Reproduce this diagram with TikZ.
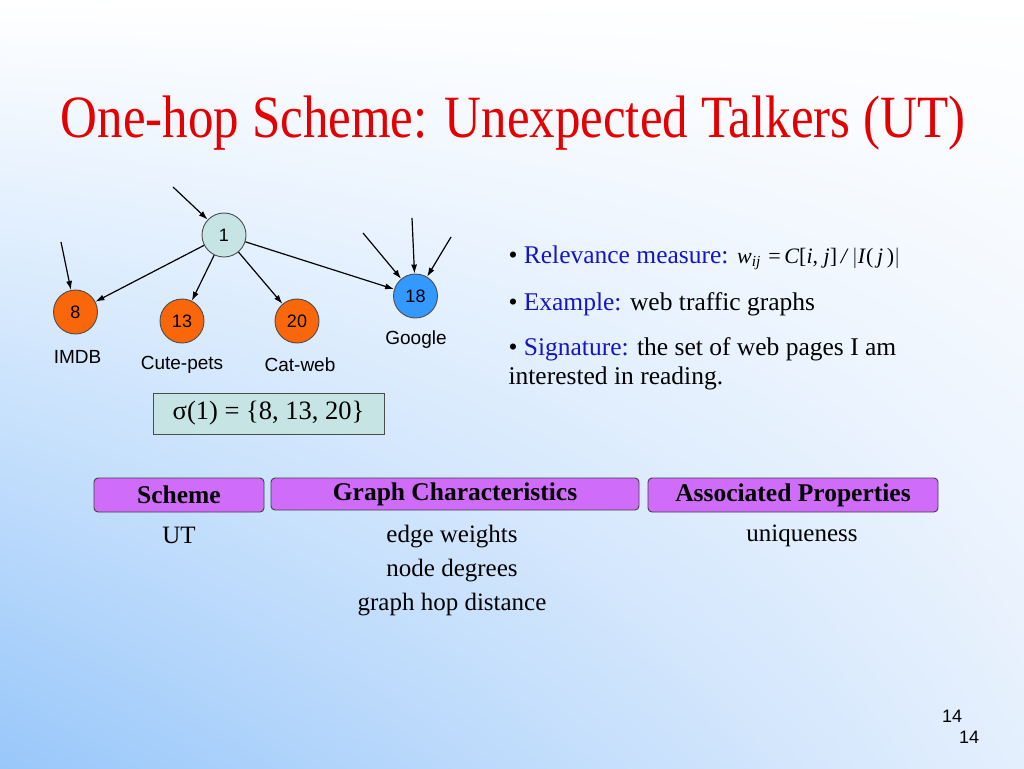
\documentclass[tikz,border=0pt]{standalone}
\usepackage{fontspec}
\setmainfont{Liberation Serif}
\setsansfont{Liberation Sans}
\usetikzlibrary{arrows.meta, shadings}
\definecolor{bgblue}{RGB}{152,199,250}
\definecolor{bgpale}{RGB}{228,239,253}
\definecolor{titlered}{RGB}{228,0,0}
\definecolor{termblue}{RGB}{20,20,200}
\definecolor{pageteal}{RGB}{198,228,228}
\definecolor{hitorange}{RGB}{250,102,10}
\definecolor{hubblue}{RGB}{51,153,255}
\definecolor{headpurple}{RGB}{208,108,250}
\begin{document}
\begin{tikzpicture}[x=1pt, y=-1pt,
					site/.style = {circle, draw=black!70, line width=0.9pt, minimum size=44pt, inner sep=0pt, font=\sffamily\fontsize{18}{18}\selectfont},
					sitename/.style = {font=\sffamily\fontsize{19}{19}\selectfont},
					link/.style = {-{Latex[length=9pt,width=6pt]}, line width=1.2pt},
					header/.style = {draw=black!75, fill=headpurple, rounded corners=4pt, line width=0.9pt, font=\bfseries\fontsize{25.5}{25.5}\selectfont},
					body/.style = {anchor=base, font=\fontsize{25}{25}\selectfont},
					point/.style = {anchor=base west, align=left, font=\fontsize{25.5}{28.5}\selectfont}
				]
				\shade[lower left=bgblue, upper left=white, upper right=white, lower right=bgpale] (0,0) rectangle (1024,768);
				\node[anchor=base, text=titlered, font=\fontsize{60}{60}\selectfont] (title) at (513,137) {\scalebox{0.85}[1]{One-hop Scheme: Unexpected Talkers (UT)}};
				\node[site, fill=pageteal] (n1) at (224,235) {1};
				\node[site, fill=hitorange] (n8) at (75.5,312) {8};
				\node[site, fill=hitorange] (n13) at (182,321) {13};
				\node[site, fill=hitorange] (n20) at (297,321) {20};
				\node[site, fill=hubblue] (n18) at (415.5,296) {18};
				\node[sitename] (imdb) at (77.5,357) {IMDB};
				\node[sitename] (pets) at (182,365) {Cute-pets};
				\node[sitename] (catweb) at (300,365) {Cat-web};
				\node[sitename] (google) at (416,340) {Google};
				\coordinate (in1) at (173,187);
				\coordinate (in8) at (61,242);
				\coordinate (in18a) at (363,233);
				\coordinate (in18b) at (412,218);
				\coordinate (in18c) at (451,237);
				\draw[link] (in1) -- (n1);
				\draw[link] (in8) -- (n8);
				\foreach \src in {in18a, in18b, in18c}
					\draw[link] (\src) -- (n18);
				\foreach \dst in {n8, n13, n20, n18}
					\draw[link] (n1) -- (\dst);
				\node[draw=black!70, fill=pageteal, line width=0.9pt, minimum width=231pt, minimum height=41pt, font=\fontsize{26.5}{26.5}\selectfont] (sigma) at (268.5,413.5) {σ(1) = \{8, 13, 20\}};
				\node[point] (relevance) at (505,263) {\textbullet\ \textcolor{termblue}{Relevance measure:}};
				\node[anchor=base west, inner sep=0pt, font=\fontsize{22}{22}\selectfont] (weight) at (737,263) {\textit{w}\textsubscript{\textit{ij}}\,\,=\,\textit{C}[\textit{i}, \textit{j}]\,\textit{/}\,$\bigl|$\textit{I}(\,\textit{j}\,)$\bigr|$};
				\node[point] (example) at (505,310) {\textbullet\ \textcolor{termblue}{Example:} web traffic graphs};
				\node[point] (signature) at (505,384) {\textbullet\ \textcolor{termblue}{Signature:} the set of web pages I am\\interested in reading.};
				\node[header, minimum width=170pt, minimum height=34pt] (scheme) at (179,495) {Scheme};
				\node[header, minimum width=368pt, minimum height=32pt] (graphchar) at (455,494) {Graph Characteristics};
				\node[header, minimum width=290pt, minimum height=34pt] (props) at (793,495) {Associated Properties};
				\node[body] (ut) at (179,543) {UT};
				\node[body] (weights) at (452,542) {edge weights};
				\node[body] (degrees) at (452,576) {node degrees};
				\node[body] (hops) at (452,610) {graph hop distance};
				\node[body] (unique) at (802,541) {uniqueness};
				\node[font=\sffamily\fontsize{18}{18}\selectfont] (page) at (952,716.5) {14};
				\node[font=\sffamily\fontsize{18}{18}\selectfont] (slideno) at (969,737) {14};
				\useasboundingbox (0,0) rectangle (1024,768);
			\end{tikzpicture}
\end{document}
